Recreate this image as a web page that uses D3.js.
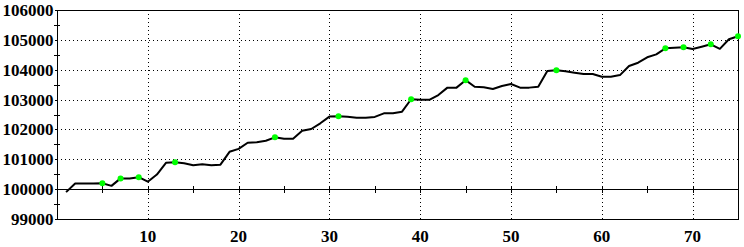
<!DOCTYPE html>
<html>
<head>
<meta charset="utf-8">
<script src="https://cdn.jsdelivr.net/npm/d3@7"></script>
<style>
  body { margin: 0; background: #fff; }
  svg { display: block; }
  .lbl { font-family: "Liberation Serif", "Times New Roman", serif; font-size: 17px; font-weight: bold; fill: #000; }
</style>
</head>
<body>
<div id="chart"></div>
<script>
// equity values for steps 1..75
var steps = d3.range(1, 76);
var values = [
  99900, 100190, 100190, 100190, 100195, 100110, 100360, 100355, 100400, 100250,
  100490, 100880, 100900, 100865, 100800, 100830, 100800, 100820, 101250, 101350,
  101555, 101570, 101620, 101735, 101690, 101690, 101955, 102015, 102205, 102430,
  102440, 102425, 102390, 102390, 102420, 102540, 102540, 102595, 103010, 102995,
  102990, 103150, 103400, 103400, 103650, 103430, 103410, 103355, 103455, 103520,
  103400, 103400, 103430, 103955, 103980, 103945, 103900, 103855, 103855, 103765,
  103765, 103820, 104125, 104235, 104415, 104515, 104715, 104735, 104750, 104695,
  104770, 104850, 104700, 105020, 105120
];
var markerSteps = [5, 7, 9, 13, 24, 31, 39, 45, 55, 67, 69, 72, 75];
var xTicks = [10, 20, 30, 40, 50, 60, 70];
var xMinorTicks = d3.range(5, 76, 5);
var yTicks = [99000, 100000, 101000, 102000, 103000, 104000, 105000, 106000];
var yMinorTicks = [99500, 100500, 101500, 102500, 103500, 104500, 105500];
var baseValue = 100000;

var width = 744, height = 247;
var plotLeft = 57, plotRight = 738, plotTop = 10, plotBottom = 219;

var svg = d3.select("#chart").append("svg")
  .attr("width", width)
  .attr("height", height);

var x = d3.scaleLinear().domain([0, 75]).range([plotLeft, plotRight]);
var y = d3.scaleLinear().domain([99000, 106000]).range([plotBottom, plotTop]);

function px(v) { return Math.round(v) + .5; }

// dotted grid
svg.append("g").selectAll("line")
  .data(xTicks)
  .enter().append("line")
  .attr("x1", function(d) { return px(x(d)); })
  .attr("x2", function(d) { return px(x(d)); })
  .attr("y1", plotTop)
  .attr("y2", plotBottom)
  .attr("stroke", "#000")
  .attr("stroke-dasharray", "1,3")
  .attr("shape-rendering", "crispEdges");

svg.append("g").selectAll("line")
  .data(yTicks.filter(function(d) { return d > 99000 && d < 106000 && d != baseValue; }))
  .enter().append("line")
  .attr("x1", plotLeft)
  .attr("x2", plotRight)
  .attr("y1", function(d) { return px(y(d)); })
  .attr("y2", function(d) { return px(y(d)); })
  .attr("stroke", "#000")
  .attr("stroke-dasharray", "1,3")
  .attr("shape-rendering", "crispEdges");

// frame
svg.append("rect")
  .attr("x", plotLeft + .5)
  .attr("y", plotTop + .5)
  .attr("width", plotRight - plotLeft)
  .attr("height", plotBottom - plotTop)
  .attr("fill", "none")
  .attr("stroke", "#000")
  .attr("stroke-width", 1.5)
  .attr("shape-rendering", "crispEdges");

// y axis ticks and labels
svg.append("g")
  .attr("transform", "translate(" + (plotLeft + .5) + ",0)")
  .call(d3.axisLeft(y).tickValues(yTicks).tickSize(3).tickFormat(d3.format("d")))
  .call(function(g) {
    g.select(".domain").remove();
    g.selectAll("line").attr("shape-rendering", "crispEdges");
    g.selectAll("text").attr("class", "lbl").attr("x", -4);
    g.attr("font-size", null).attr("font-family", null);
  });

svg.append("g").selectAll("line")
  .data(yMinorTicks)
  .enter().append("line")
  .attr("x1", plotLeft - 3)
  .attr("x2", plotLeft + 3)
  .attr("y1", function(d) { return px(y(d)); })
  .attr("y2", function(d) { return px(y(d)); })
  .attr("stroke", "#000")
  .attr("shape-rendering", "crispEdges");

// base line at 100000 with ticks
svg.append("line")
  .attr("x1", plotLeft)
  .attr("x2", plotRight)
  .attr("y1", px(y(baseValue)))
  .attr("y2", px(y(baseValue)))
  .attr("stroke", "#000")
  .attr("shape-rendering", "crispEdges");

svg.append("g").selectAll("line")
  .data(xMinorTicks)
  .enter().append("line")
  .attr("x1", function(d) { return px(x(d)); })
  .attr("x2", function(d) { return px(x(d)); })
  .attr("y1", Math.round(y(baseValue)) - 3)
  .attr("y2", Math.round(y(baseValue)) + 4)
  .attr("stroke", "#000")
  .attr("shape-rendering", "crispEdges");

// x labels
svg.append("g").selectAll("text")
  .data(xTicks)
  .enter().append("text")
  .attr("class", "lbl")
  .attr("x", function(d) { return x(d); })
  .attr("y", plotBottom + 23)
  .attr("text-anchor", "middle")
  .text(function(d) { return d; });

// equity line
var line = d3.line()
  .x(function(d, i) { return x(steps[i]); })
  .y(function(d) { return y(d); });

svg.append("path")
  .datum(values)
  .attr("d", line)
  .attr("fill", "none")
  .attr("stroke", "#000")
  .attr("stroke-width", 2)
  .attr("stroke-linejoin", "round");

// markers
svg.append("g").selectAll("circle")
  .data(markerSteps)
  .enter().append("circle")
  .attr("cx", function(d) { return x(d); })
  .attr("cy", function(d) { return y(values[d - 1]); })
  .attr("r", 3)
  .attr("fill", "#00ff00");
</script>
</body>
</html>
